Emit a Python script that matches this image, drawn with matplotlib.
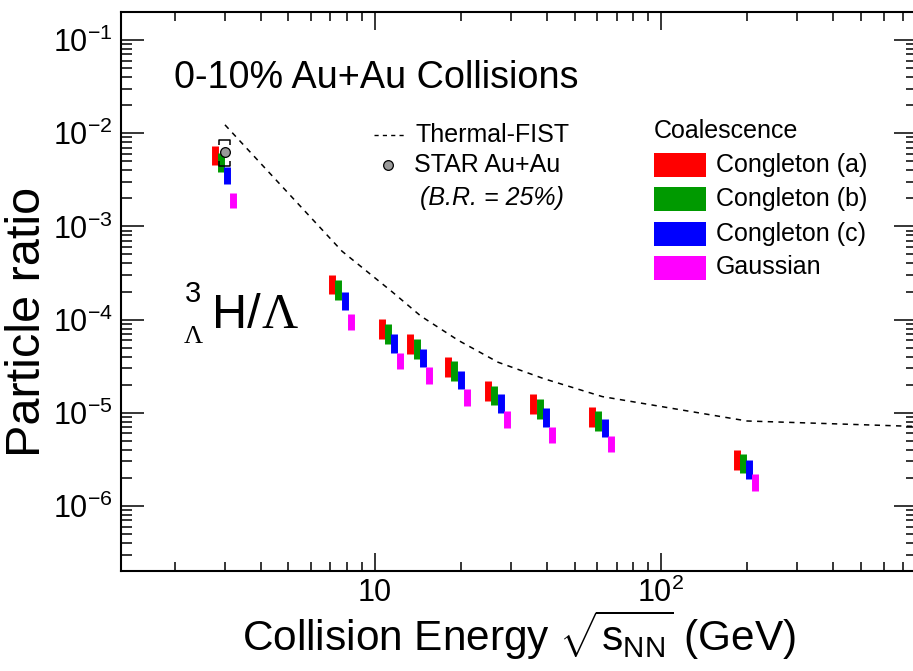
import numpy as np
import matplotlib
matplotlib.use("Agg")
import matplotlib.pyplot as plt
from matplotlib import font_manager
from matplotlib.patches import Rectangle
from matplotlib.lines import Line2D
from matplotlib.ticker import FixedLocator, FixedFormatter, LogLocator, NullFormatter

plt.rcParams['font.family'] = ['Liberation Sans', 'DejaVu Sans']
plt.rcParams['mathtext.fontset'] = 'custom'
plt.rcParams['mathtext.rm'] = 'Liberation Sans'
plt.rcParams['mathtext.it'] = 'Liberation Sans:italic'
plt.rcParams['mathtext.bf'] = 'Liberation Sans:bold'
plt.rcParams['mathtext.default'] = 'regular'

_names = {f.name for f in font_manager.fontManager.ttflist}
NARROW = 'Liberation Sans Narrow' if 'Liberation Sans Narrow' in _names else 'Liberation Sans'
SERIF = 'Liberation Serif' if 'Liberation Serif' in _names else 'DejaVu Serif'

# ---------------- data ----------------
energies = [3, 7.7, 11.5, 14.5, 19.6, 27, 39, 62.4, 200]

cong_a_low  = [4.59e-3, 1.87e-4, 6.14e-5, 4.24e-5, 2.42e-5, 1.33e-5, 9.62e-6, 7.08e-6, 2.43e-6]
cong_a_high = [7.35e-3, 3.03e-4, 1.01e-4, 6.95e-5, 3.99e-5, 2.19e-5, 1.58e-5, 1.16e-5, 4.01e-6]

cong_b_low  = [3.88e-3, 1.63e-4, 5.51e-5, 3.78e-5, 2.19e-5, 1.20e-5, 8.63e-6, 6.41e-6, 2.24e-6]
cong_b_high = [6.13e-3, 2.66e-4, 8.89e-5, 6.14e-5, 3.56e-5, 1.95e-5, 1.40e-5, 1.04e-5, 3.63e-6]

cong_c_low  = [2.83e-3, 1.27e-4, 4.41e-5, 3.08e-5, 1.78e-5, 1.00e-5, 7.08e-6, 5.45e-6, 1.93e-6]
cong_c_high = [4.31e-3, 1.98e-4, 7.00e-5, 4.86e-5, 2.82e-5, 1.59e-5, 1.12e-5, 8.49e-6, 3.11e-6]

gauss_low   = [1.56e-3, 7.73e-5, 2.92e-5, 2.03e-5, 1.19e-5, 6.86e-6, 4.76e-6, 3.76e-6, 1.45e-6]
gauss_high  = [2.28e-3, 1.15e-4, 4.38e-5, 3.08e-5, 1.80e-5, 1.04e-5, 7.11e-6, 5.66e-6, 2.20e-6]

thermal_energies = [3, 7.7, 11.5, 14.5, 19.6, 27, 39, 62.4, 200, 800]
thermal_ratio    = [1.23e-2, 5.4e-4, 1.99e-4, 1.09e-4, 5.98e-5, 3.48e-5, 2.32e-5, 1.49e-5, 8.15e-6, 7.1e-6]

star_energy = [3.0]
star_ratio = [6.33e-3]
star_sys_low = [4.45e-3]
star_sys_high = [8.45e-3]

x_ticks = [10, 100]
x_tick_labels = ['10', r'$10^{2}$']
y_ticks = [1e-6, 1e-5, 1e-4, 1e-3, 1e-2, 1e-1]
y_tick_labels = [r'$10^{-6}$', r'$10^{-5}$', r'$10^{-4}$', r'$10^{-3}$', r'$10^{-2}$', r'$10^{-1}$']

model_labels = ['Congleton (a)', 'Congleton (b)', 'Congleton (c)', 'Gaussian']
model_colors = ['#ff0000', '#009a00', '#0000ff', '#ff00ff']

# ---------------- figure ----------------
W, H = 913, 671
fig = plt.figure(figsize=(W / 100, H / 100), dpi=100)

def fx(px):
    return px / W

def fy(py):
    return 1 - py / H

ax_left, ax_right, ax_top, ax_bot = 121, 917, 12, 571
ax = fig.add_axes([fx(ax_left), fy(ax_bot), (ax_right - ax_left) / W, (ax_bot - ax_top) / H])
ax.set_xscale('log')
ax.set_yscale('log')
ax.set_xlim(1.3, 785)
ax.set_ylim(2e-7, 0.2)

# ---- model bars (shifted horizontally for visibility) ----
shift = [0.92, 0.97, 1.02, 1.07]
lows = [cong_a_low, cong_b_low, cong_c_low, gauss_low]
highs = [cong_a_high, cong_b_high, cong_c_high, gauss_high]
for k in range(4):
    xs = np.array(energies) * shift[k]
    ax.vlines(xs, lows[k], highs[k], colors=model_colors[k], lw=5.0,
              capstyle='butt', zorder=3)

# ---- thermal-FIST ----
ax.plot(thermal_energies, thermal_ratio, color='black', lw=1.1,
        linestyle=(0, (3.5, 3.5)), zorder=2)

# ---- STAR point with systematic brackets ----
def off(x, y, dx, dy):
    d = ax.transData.transform((x, y))
    return ax.transData.inverted().transform((d[0] + dx, d[1] + dy))

for e, r, lo, hi in zip(star_energy, star_ratio, star_sys_low, star_sys_high):
    hw, tk = 5.5, 5
    for yv, sgn in ((hi, -1), (lo, 1)):
        p1 = off(e, yv, -hw, sgn * tk)
        p2 = off(e, yv, -hw, 0)
        p3 = off(e, yv, hw, 0)
        p4 = off(e, yv, hw, sgn * tk)
        ax.plot([p1[0], p2[0], p3[0], p4[0]], [p1[1], p2[1], p3[1], p4[1]],
                color='black', lw=1.1, zorder=5, solid_capstyle='butt')
    ax.plot([e], [r], 'o', ms=7, mfc='#9a9a9a', mec='black', mew=0.9, zorder=6)

# ---- axes style ----
for s in ax.spines.values():
    s.set_linewidth(1.5)
ax.xaxis.set_major_locator(FixedLocator(x_ticks))
ax.xaxis.set_major_formatter(FixedFormatter(x_tick_labels))
ax.xaxis.set_minor_locator(LogLocator(base=10, subs=np.arange(2, 10), numticks=30))
ax.xaxis.set_minor_formatter(NullFormatter())
ax.yaxis.set_major_locator(FixedLocator(y_ticks))
ax.yaxis.set_major_formatter(FixedFormatter(y_tick_labels))
ax.yaxis.set_minor_locator(LogLocator(base=10, subs=np.arange(2, 10), numticks=30))
ax.yaxis.set_minor_formatter(NullFormatter())
ax.tick_params(which='both', direction='in', top=True, right=True, width=1.1,
               labelsize=22, colors='black')
ax.tick_params(axis='y', which='major', length=16.5, pad=6)
ax.tick_params(axis='y', which='minor', length=8)
ax.tick_params(axis='x', which='major', length=13, pad=5)
ax.tick_params(axis='x', which='minor', length=6.5)

# ---- titles ----
fig.text(fx(28), fy(322), 'Particle ratio', rotation=90, ha='center', va='center',
         fontsize=35)
fig.text(fx(519), fy(635), r'Collision Energy $\sqrt{s_{NN}}$ (GeV)', ha='center',
         va='center', fontsize=30.5)

# ---- annotations ----
fig.text(fx(174), fy(78), '0-10% Au+Au Collisions', ha='left', va='center', fontsize=27.2)
fig.text(fx(212), fy(328), 'H/', ha='left', va='baseline', fontsize=35, family=NARROW)
fig.text(fx(261), fy(328), '\u039b', ha='left', va='baseline', fontsize=36, family=SERIF)
fig.text(fx(185), fy(302.5), '3', ha='left', va='baseline', fontsize=21)
fig.text(fx(184), fy(343), '\u039b', ha='left', va='baseline', fontsize=19, family=SERIF)

# ---- legend 1 ----
fig.add_artist(Line2D([fx(374), fx(406)], [fy(135), fy(135)], color='black', lw=1.0,
                      linestyle=(0, (3, 3))))
fig.text(fx(415), fy(135), 'Thermal-FIST', ha='left', va='center', fontsize=18)
fig.add_artist(Line2D([fx(387.5)], [fy(165)], marker='o', ms=7, mfc='#9a9a9a',
                      mec='black', mew=0.9, linestyle='none'))
fig.text(fx(414), fy(165), 'STAR Au+Au', ha='left', va='center', fontsize=18)
fig.text(fx(420), fy(198), '(B.R. = 25%)', ha='left', va='center', fontsize=18,
         style='italic')

# ---- legend 2 ----
fig.text(fx(654), fy(131), 'Coalescence', ha='left', va='center', fontsize=18)
row_y = [165, 199, 233.5, 267.5]
for k in range(4):
    fig.add_artist(Rectangle((fx(654), fy(row_y[k] + 12)), 52 / W, 24 / H,
                             facecolor=model_colors[k], edgecolor='none'))
    fig.text(fx(716), fy(row_y[k]), model_labels[k], ha='left', va='center',
             fontsize=18)

fig.savefig('out.png', dpi=100)
